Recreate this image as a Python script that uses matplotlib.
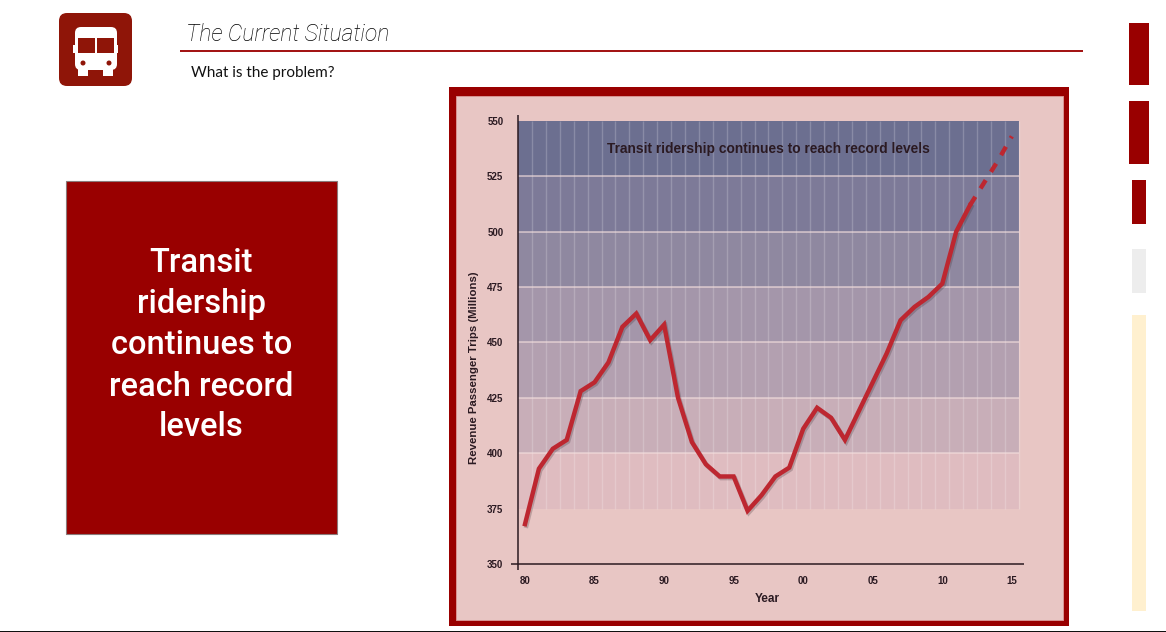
import matplotlib
matplotlib.use('Agg')
import matplotlib.pyplot as plt
import matplotlib.patheffects as pe
from matplotlib.patches import Rectangle, FancyBboxPatch, Circle

W, H = 1166, 632

years = [1980, 1981, 1982, 1983, 1984, 1985, 1986, 1987, 1988, 1989, 1990, 1991,
         1992, 1993, 1994, 1995, 1996, 1997, 1998, 1999, 2000, 2001, 2002, 2003,
         2004, 2005, 2006, 2007, 2008, 2009, 2010, 2011, 2012]
trips = [368, 393, 402, 406, 428, 432, 441, 457, 463, 451, 458, 425,
         405, 395, 389.5, 389.5, 374, 381, 389.5, 393.5, 411, 420.5, 416, 406,
         419, 432, 445, 460, 466, 470.5, 476.5, 500, 512]
proj_years = [2012, 2013, 2014, 2015]
proj_trips = [512, 522, 532, 543]

band_edges = [375, 400, 425, 450, 475, 500, 525, 550]
band_colors = ['#dfbcc0', '#c8aeb8', '#b3a0b0', '#a496aa', '#8f88a0', '#7d7a98', '#6c6f90']
ytick_vals = [350, 375, 400, 425, 450, 475, 500, 525, 550]
xtick_vals = [1980, 1985, 1990, 1995, 2000, 2005, 2010, 2015]
xtick_labels = ['80', '85', '90', '95', '00', '05', '10', '15']
grid_years = [1980.5 + i for i in range(36)]

DARK = '#990000'
PANEL = '#e8c6c4'
LINE = '#bd2730'
INK = '#2b1a22'

fig = plt.figure(figsize=(W / 100, H / 100), dpi=100, facecolor='#ffffff')

# page furniture, in pixel coordinates
bg = fig.add_axes([0, 0, 1, 1])
bg.set_xlim(0, W)
bg.set_ylim(H, 0)
bg.axis('off')

def box(x0, y0, x1, y1, color, **kw):
    bg.add_patch(Rectangle((x0, y0), x1 - x0, y1 - y0, facecolor=color, edgecolor='none', **kw))

# icon
bg.add_patch(FancyBboxPatch((63, 17), 65, 65, boxstyle='round,pad=4,rounding_size=8',
                            facecolor='#8f1508', edgecolor='none'))
bg.add_patch(FancyBboxPatch((77, 29), 38, 39, boxstyle='round,pad=2,rounding_size=6',
                            facecolor='white', edgecolor='none'))
box(73, 45, 118, 53, 'white')
box(78, 68, 88, 76, 'white')
box(103, 68, 113, 76, 'white')
box(78, 38, 95, 53, '#8f1508')
box(97, 38, 114, 53, '#8f1508')
bg.add_patch(Circle((83, 63), 2.5, facecolor='#8f1508', edgecolor='none'))
bg.add_patch(Circle((109, 63), 2.5, facecolor='#8f1508', edgecolor='none'))

# header
bg.text(186, 34.5, 'The Current Situation', fontsize=16.5, style='italic', family='Roboto',
        fontweight='light', color='#000000', va='center', ha='left')
box(180, 50, 1083, 52, '#a31515')
bg.text(191, 72.5, 'What is the problem?', fontsize=11, family='Lato', color='#111111',
        va='center', ha='left')

# left callout
bg.add_patch(Rectangle((66, 181), 271, 353, facecolor=DARK, edgecolor='#8a7a7a', linewidth=0.8))
bg.text(201.5, 345.5, 'Transit\nridership\ncontinues to\nreach record\nlevels', fontsize=23.5,
        family='Roboto', fontweight='medium', color='white',
        ha='center', va='center', linespacing=1.36)

# right side bars
box(1129, 23, 1149, 85, DARK)
box(1129, 101, 1149, 164, DARK)
box(1132, 180, 1146, 224, DARK)
box(1132, 249, 1146, 293, '#ededed')
box(1132, 315, 1146, 611, '#fff0cf')

# bottom rule
box(0, 630.5, W, 632, '#111111')

# chart frame
box(449, 87, 1069, 626, DARK)
bg.add_patch(Rectangle((456, 95.5), 606.5, 524, facecolor=PANEL, edgecolor='#d89492', linewidth=0.7))

# chart itself: the axes run from 511 to 1024 px across and 115 to 570 px down
px_year = 13.91
px_unit = 55.4 / 25
ax = fig.add_axes([511 / W, 1 - 570 / H, (1024 - 511) / W, (570 - 115) / H])
ax.patch.set_alpha(0)
ax.set_xlim(1980 + (511 - 525) / px_year, 1980 + (1024 - 525) / px_year)
ax.set_ylim(350 - (570 - 564) / px_unit, 350 + (564 - 115) / px_unit)
for s in ax.spines.values():
    s.set_visible(False)

x_left = 1979.5
x_right = 2015.5
for i in range(len(band_colors)):
    ax.fill_between([x_left, x_right], band_edges[i], band_edges[i + 1],
                    color=band_colors[i], linewidth=0, zorder=1)
ax.vlines(grid_years, 375, 550, color='#ffffff', alpha=0.2, linewidth=1, zorder=2)
ax.hlines(band_edges[1:-1], x_left, x_right, color='#f3dedd', alpha=0.75, linewidth=1.1, zorder=2)

ax.axhline(350, color=INK, linewidth=1.1, zorder=3)
ax.axvline(x_left, color=INK, linewidth=1.1, zorder=3)

shadow = [pe.SimpleLineShadow(offset=(1.0, -1.2), shadow_color='#3a2a30', alpha=0.25), pe.Normal()]
ax.plot(years, trips, color=LINE, linewidth=3.2, solid_joinstyle='miter', zorder=5, path_effects=shadow)
ax.plot(proj_years, proj_trips, color=LINE, linewidth=3.2, linestyle=(0, (2.2, 2.2)), zorder=5)

ax.text(1997.47, 537.2, 'Transit ridership continues to reach record levels', fontsize=9.9,
        fontweight='bold', family='Liberation Sans', color=INK, ha='center', va='center', zorder=6)

ax.set_xticks(xtick_vals)
ax.set_xticklabels(xtick_labels)
ax.set_yticks(ytick_vals)
ax.tick_params(axis='both', length=0, labelsize=7, labelcolor=INK)
ax.tick_params(axis='x', pad=4)
ax.tick_params(axis='y', pad=5.5)
for lab in ax.get_xticklabels() + ax.get_yticklabels():
    lab.set_family('Liberation Sans')
    lab.set_fontweight('bold')

ax.set_xlabel('Year', fontsize=8.5, fontweight='bold', family='Liberation Sans', color=INK, labelpad=5)
ax.set_ylabel('Revenue Passenger Trips (Millions)', fontsize=8.2, fontweight='bold',
              family='Liberation Sans', color=INK)
ax.yaxis.set_label_coords((479 - 511) / (1024 - 511), (570 - 368) / (570 - 115))

fig.savefig('out.png', dpi=100, facecolor=fig.get_facecolor())
